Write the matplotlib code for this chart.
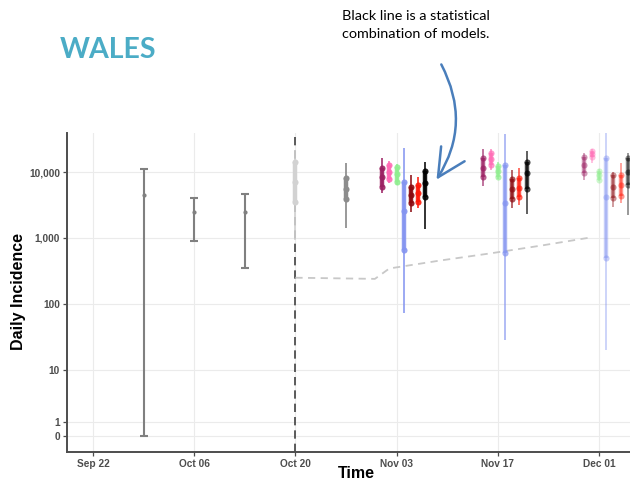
import numpy as np
import matplotlib
matplotlib.use("Agg")
import matplotlib.pyplot as plt
import matplotlib.dates as mdates
from matplotlib.patches import FancyArrowPatch
from matplotlib.ticker import FixedLocator

# ---------------- data ----------------
hist_dates = ['2020-09-29', '2020-10-06', '2020-10-13']
hist_low = [0, 910, 348]
hist_mid = [4470, 2500, 2500]
hist_high = [11000, 4080, 4640]

nowcast_dates = ['2020-10-20', '2020-10-27']
nowcast_lo95 = [930, 1400]
nowcast_lo50 = [3540, 3860]
nowcast_mid = [7000, 5470]
nowcast_hi50 = [14300, 8030]
nowcast_hi95 = [21600, 13800]
nowcast_colors = ['#D2D2D2', '#8C8C8C']

forecast_dates = ['2020-11-04', '2020-11-18', '2020-12-02']
models = ['Model A', 'Model B', 'Model C', 'Model D', 'Model E', 'Model F', 'Ensemble']
model_colors = ['#9B2062', '#FF69B4', '#90EE90', '#8494F0', '#8B0A10', '#FF1A0A', '#000000']
horizon_alpha = [0.9, 0.7, 0.45]

fc_lo95 = [[4860, 6140, 7570], [6740, 10700, 13500], [6360, 7750, 7380],
           [72, 28.5, 20], [2500, 2820, 2980], [2820, 3160, 3360], [1355, 2310, 2230]]
fc_lo50 = [[5990, 8300, 9550], [7750, 12800, 16800], [7130, 8500, 7570],
           [658, 586, 492], [3360, 3860, 4000], [3550, 4140, 4330], [4220, 5470, 6360]]
fc_mid = [[8300, 11600, 12800], [10000, 15700, 18900], [9300, 10400, 9000],
          [2590, 3430, 4220], [4500, 5600, 6000], [4800, 5800, 6360], [6800, 9550, 10000]]
fc_hi50 = [[11400, 16100, 17100], [12800, 19200, 21000], [12000, 12500, 10500],
           [7130, 12800, 16100], [5990, 7750, 9000], [6360, 8030, 9000], [10500, 14300, 16100]]
fc_hi95 = [[16100, 22000, 19200], [14800, 22000, 22000], [13200, 14300, 11000],
           [22900, 37700, 45000], [9000, 10700, 10100], [8300, 11400, 13500], [14300, 21000, 19200]]

trend_dates = ['2020-10-20', '2020-10-31', '2020-11-02', '2020-11-09',
               '2020-11-16', '2020-11-23', '2020-11-30']
trend_vals = [250, 240, 345, 455, 585, 767, 1025]

cutoff_date = '2020-10-20'
x_tick_dates = ['2020-09-22', '2020-10-06', '2020-10-20', '2020-11-03', '2020-11-17', '2020-12-01']
y_ticks = [0, 1, 10, 100, 1000, 10000]
y_tick_labels = ['0', '1', '10', '100', '1,000', '10,000']

# ---------------- figure ----------------
plt.rcParams['font.family'] = ['Liberation Sans', 'DejaVu Sans']
fig = plt.figure(figsize=(6.3, 4.8), dpi=100)
ax = fig.add_axes([67 / 630, 1 - 452 / 480, 1 - 67 / 630, (452 - 133) / 480])

ln10 = np.log(10)
ax.set_yscale('function', functions=(lambda v: np.arcsinh(np.asarray(v) / 2) / ln10,
                                     lambda t: 2 * np.sinh(np.asarray(t) * ln10)))

def d(s):
    return mdates.date2num(np.datetime64(s))

# grid
for yt in y_ticks:
    ax.axhline(yt, color='#EBEBEB', lw=0.8, zorder=0)
for xt in x_tick_dates:
    ax.axvline(d(xt), color='#EBEBEB', lw=0.8, zorder=0)

# cutoff line
ax.axvline(d(cutoff_date), color='#404040', lw=1.2, ls=(0, (5, 3)), zorder=1)

# trend dashed line
ax.plot([d(s) for s in trend_dates], trend_vals, color='#C8C8C8', lw=1.3,
        ls=(0, (4, 3)), zorder=2)

# historical error bars
hx = [d(s) for s in hist_dates]
hm = np.array(hist_mid)
ax.errorbar(hx, hm, yerr=[hm - np.array(hist_low), np.array(hist_high) - hm],
            fmt='o', ms=2, color='#808080', ecolor='#808080', elinewidth=1.5,
            capsize=2.6, capthick=1.5, zorder=3)

def interval(x, lo95, lo50, mid, hi50, hi95, color, alpha, z=4):
    ax.plot([x, x], [lo95, hi95], color=color, alpha=alpha, lw=1.25, zorder=z,
            solid_capstyle='butt')
    ax.plot([x, x], [lo50, hi50], color=color, alpha=alpha, lw=3.2, zorder=z + 0.1,
            solid_capstyle='butt')
    ax.plot([x, x, x], [lo50, mid, hi50], 'o', color=color, alpha=alpha, ms=4.4,
            mew=0, zorder=z + 0.2)

for i, s in enumerate(nowcast_dates):
    interval(d(s), nowcast_lo95[i], nowcast_lo50[i], nowcast_mid[i],
             nowcast_hi50[i], nowcast_hi95[i], nowcast_colors[i], 1.0)

n_models = len(models)
offsets = np.arange(n_models) - (n_models - 1) / 2
for j, s in enumerate(forecast_dates):
    for m in range(n_models):
        interval(d(s) + offsets[m], fc_lo95[m][j], fc_lo50[m][j], fc_mid[m][j],
                 fc_hi50[m][j], fc_hi95[m][j], model_colors[m], horizon_alpha[j])

# axes styling
x0 = d('2020-09-22')
ax.set_xlim(x0 - 3.6, x0 + 74.3)
ax.set_ylim(-1.18, 39000)
ax.set_xticks([d(s) for s in x_tick_dates])
ax.set_xticklabels([np.datetime64(s).astype(object).strftime('%b %d') for s in x_tick_dates])
ax.yaxis.set_major_locator(FixedLocator(y_ticks))
ax.yaxis.set_minor_locator(FixedLocator([]))
ax.set_yticklabels(y_tick_labels)
for sp in ['top', 'right']:
    ax.spines[sp].set_visible(False)
for sp in ['left', 'bottom']:
    ax.spines[sp].set_color('#4D4D4D')
    ax.spines[sp].set_linewidth(1.4)
ax.tick_params(axis='both', colors='#4D4D4D', length=3, width=0.9, labelsize=7.3, pad=2)
for lab in ax.get_xticklabels() + ax.get_yticklabels():
    lab.set_fontweight('bold')
    lab.set_color('#4D4D4D')
ax.set_xlabel('Time', fontsize=11.5, fontweight='bold')
ax.xaxis.set_label_coords((356 - 67) / (630 - 67), -(473 - 452) / (452 - 133))
ax.xaxis.label.set_va('center')
ax.set_ylabel('Daily Incidence', fontsize=11.5, fontweight='bold')
ax.yaxis.set_label_coords(-(67 - 19) / (630 - 67), (452 - 292) / (452 - 133))
ax.yaxis.label.set_va('center')

# title and annotation
fig.text(60 / 630, 1 - 50 / 480, 'WALES', fontsize=20.5, fontweight='bold', color='#4BACC6',
         family=['Lato', 'DejaVu Sans'], va='center', ha='left')
fig.text(342 / 630, 1 - 10 / 480, 'Black line is a statistical\ncombination of models.',
         fontsize=10.4, family=['Lato', 'DejaVu Sans'], va='top', ha='left',
         linespacing=1.6, color='black')
arrow = FancyArrowPatch((440 / 630, 1 - 62 / 480), (435 / 630, 1 - 182 / 480),
                        transform=fig.transFigure, connectionstyle='arc3,rad=-0.3',
                        arrowstyle='->,head_length=1.0,head_width=0.5', mutation_scale=20,
                        color='#4A7EBB', lw=1.8)
fig.add_artist(arrow)

fig.savefig('out.png', dpi=100)
